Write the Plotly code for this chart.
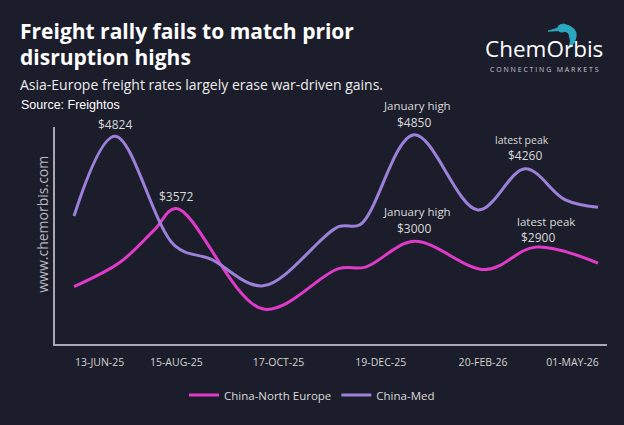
import plotly.graph_objects as go

# ---------------- data ----------------
# x positions are sequential weekly slots on the chart's category scale
med_pos = [0, 3.2, 7.9, 10.7, 14.8, 20.7, 22.4, 26.6, 31.6, 35.3, 38.4, 41]
china_med = [3440, 4824, 2920, 2690, 2229, 3254, 3292, 4850, 3545, 4260, 3725, 3590]

ne_pos = [0, 3.6, 6.3, 8.0, 14.8, 20.7, 22.8, 26.6, 32.2, 36.1, 41]
china_ne = [2215, 2637, 3204, 3572, 1826, 2527, 2554, 3000, 2510, 2900, 2621]

tick_pos = [2, 8, 16, 24, 32, 39]
tick_labels = ["13-JUN-25", "15-AUG-25", "17-OCT-25", "19-DEC-25", "20-FEB-26", "01-MAY-26"]

# ---------------- style ----------------
W, H = 624, 425
ML, MR, MT, MB = 55, 17, 127, 74
BG = "#1c1d2b"
MAGENTA = "#e03ac9"
PURPLE = "#9c80d9"
FONT = "Open Sans"


def px(x):
    return (x - ML) / (W - ML - MR)


def py(y):
    return (H - MB - y) / (H - MT - MB)


fig = go.Figure()
fig.add_trace(go.Scatter(x=ne_pos, y=china_ne, mode="lines", name="China-North Europe",
                         line=dict(color=MAGENTA, width=3, shape="spline", smoothing=1.0)))
fig.add_trace(go.Scatter(x=med_pos, y=china_med, mode="lines", name="China-Med",
                         line=dict(color=PURPLE, width=3, shape="spline", smoothing=1.0)))

ann = []
def label(x, y, text, xs=0, ys=0, size=12, color="#d9d9d9"):
    ann.append(dict(x=x, y=y, xref="x", yref="y", text=text, showarrow=False,
                    xshift=xs, yshift=ys, font=dict(family=FONT, size=size, color=color)))

# peaks on the China-Med series
label(med_pos[1], china_med[1], "$4824", 0, 12)
label(med_pos[7], china_med[7], "$4850", 0, 12)
label(med_pos[7], china_med[7], "January high", 3, 29, size=11.5)
label(med_pos[9], china_med[9], "$4260", 0, 13)
label(med_pos[9], china_med[9], "latest peak", -3, 29, size=10.5)
# peaks on the China-North Europe series
label(ne_pos[3], china_ne[3], "$3572", 0, 12)
label(ne_pos[7], china_ne[7], "$3000", 0, 13)
label(ne_pos[7], china_ne[7], "January high", 3, 30, size=11.5)
label(ne_pos[9], china_ne[9], "$2900", 3, 10)
label(ne_pos[9], china_ne[9], "latest peak", 11, 26, size=11.5)

# header texts
def ptext(x, y, text, size, color="#ffffff", family=FONT, xanchor="left", angle=0):
    ann.append(dict(x=px(x), y=py(y), xref="paper", yref="paper", text=text, showarrow=False,
                    xanchor=xanchor, yanchor="middle", textangle=angle,
                    font=dict(family=family, size=size, color=color)))

ptext(18, 28, "<b>Freight rally fails to match prior</b>", 21)
ptext(18, 55, "<b>disruption highs</b>", 21)
ptext(18, 83, "Asia-Europe freight rates largely erase war-driven gains.", 14, "#ececec")
ptext(19, 104, "Source: Freightos", 12.5, "#ffffff", "Liberation Sans")
ptext(544, 46, "ChemOrbis", 22.5, "#ffffff", FONT, "center")
ptext(544, 68, "C O N N E C T I N G &nbsp; M A R K E T S", 7, "#c9c9cf", FONT, "center")
ptext(43, 228, "www.chemorbis.com", 14, "#b9b9c0", FONT, "center", -90)

shapes = []
# logo mark: teal ball with swoosh
TEAL = "#2ba7bf"
shapes.append(dict(type="circle", xref="paper", yref="paper",
                   x0=px(557.5), x1=px(566.5), y0=py(29.5), y1=py(20.5),
                   fillcolor=TEAL, line=dict(width=0)))
shapes.append(dict(type="path", xref="paper", yref="paper",
                   path=f"M {px(548)},{py(28)} L {px(559)},{py(24.5)} L {px(559)},{py(27.5)} Z",
                   fillcolor=TEAL, line=dict(color=TEAL, width=1)))
shapes.append(dict(type="path", xref="paper", yref="paper",
                   path=(f"M {px(563)},{py(20.5)} Q {px(578)},{py(24)} {px(576)},{py(34)} "
                         f"Q {px(575)},{py(41)} {px(569)},{py(46)} "
                         f"Q {px(572)},{py(38)} {px(569)},{py(31)} Q {px(567)},{py(28)} {px(564)},{py(28)} Z"),
                   fillcolor=TEAL, line=dict(color=TEAL, width=1)))

fig.update_layout(
    width=W, height=H, autosize=False,
    margin=dict(l=ML, r=MR, t=MT, b=MB),
    paper_bgcolor=BG, plot_bgcolor=BG,
    font=dict(family=FONT, color="#d9d9d9"),
    showlegend=True,
    legend=dict(orientation="h", x=0.5, xref="container", xanchor="center",
                y=(H - 395) / H, yref="container", yanchor="middle",
                font=dict(family=FONT, size=11.5, color="#dadada"),
                bgcolor="rgba(0,0,0,0)", itemwidth=30, tracegroupgap=0),
    annotations=ann, shapes=shapes,
    xaxis=dict(range=[-1.49, 41.7], showgrid=False, zeroline=False, showline=True,
               linecolor="#a8a8b2", linewidth=2, tickmode="array", tickvals=tick_pos,
               ticktext=tick_labels, ticks="", ticklabelstandoff=7,
               tickfont=dict(family=FONT, size=10.5, color="#d2d2d2")),
    yaxis=dict(range=[1221, 4984], showgrid=False, zeroline=False, showline=True,
               linecolor="#a8a8b2", linewidth=2, showticklabels=False, ticks=""),
)

fig.write_html("out.html")
